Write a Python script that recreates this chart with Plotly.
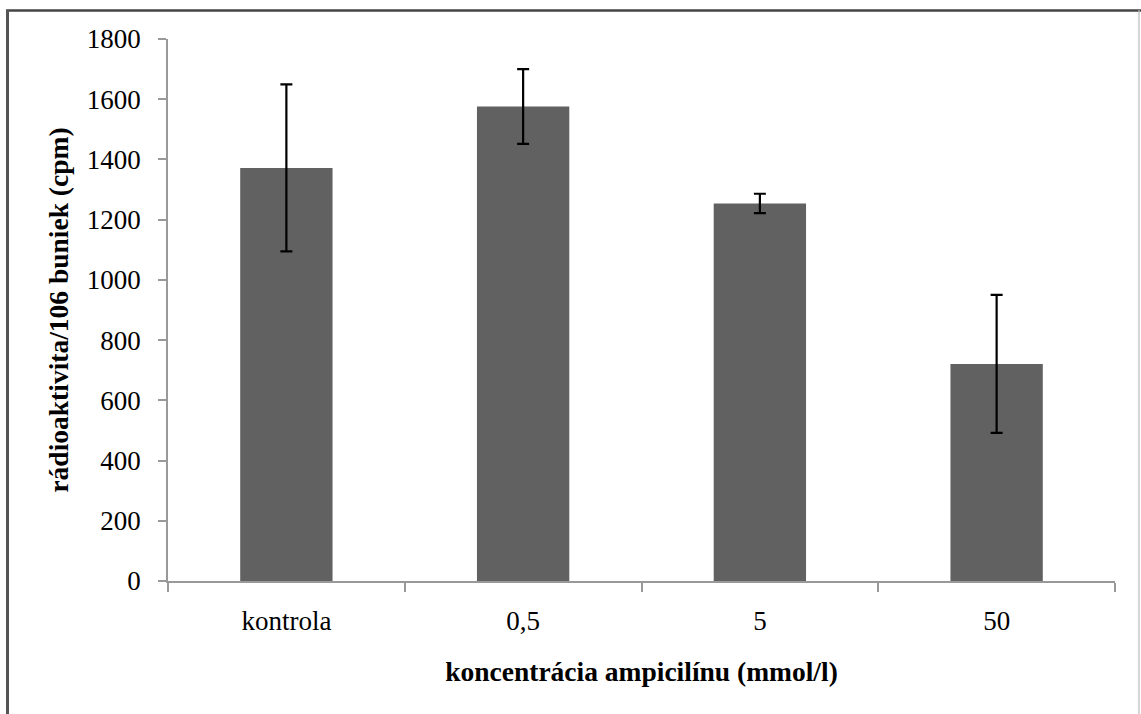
import plotly.graph_objects as go

categories = ["kontrola", "0,5", "5", "50"]
values = [1372, 1576, 1254, 721]
errors = [277, 124, 32, 229]
y_ticks = [0, 200, 400, 600, 800, 1000, 1200, 1400, 1600, 1800]

W, H = 1141, 714
L, R, T, B = 168, 26, 39, 133
pw, ph = W - L - R, H - T - B

def px_x(x):
    return (x - L) / pw

def px_y(y):
    return (H - B - y) / ph

font = "Liberation Serif, Times New Roman, serif"

fig = go.Figure(go.Bar(
    x=categories, y=values,
    marker=dict(color="#616161", line=dict(width=0)),
    width=0.39,
    error_y=dict(type="data", array=errors, visible=True,
                 color="black", thickness=2.2, width=6),
))

fig.update_layout(
    width=W, height=H,
    margin=dict(l=L, r=R, t=T, b=B),
    paper_bgcolor="white", plot_bgcolor="white",
    font=dict(family=font, size=27, color="black"),
    showlegend=False,
    xaxis=dict(
        type="category", tickson="boundaries", ticks="outside", ticklen=9,
        tickcolor="#999999", tickwidth=1.5,
        showline=True, linecolor="#999999", linewidth=1.5,
        showgrid=False, tickfont=dict(size=27), ticklabelstandoff=15,
        title=dict(text="<b>koncentrácia ampicilínu (mmol/l)</b>",
                   font=dict(size=27.5), standoff=27),
    ),
    yaxis=dict(
        range=[0, 1800], tickvals=y_ticks, ticks="outside", ticklen=8,
        tickcolor="#999999", tickwidth=1.5,
        showline=True, linecolor="#999999", linewidth=1.5,
        showgrid=False, zeroline=False, tickfont=dict(size=27),
        ticklabelstandoff=12,
        title=dict(text="<b>rádioaktivita/106 buniek (cpm)</b>",
                   font=dict(size=27.5), standoff=10),
    ),
    shapes=[
        dict(type="line", xref="paper", yref="paper",
             x0=px_x(6), x1=px_x(1141), y0=px_y(10.5), y1=px_y(10.5),
             line=dict(color="#444444", width=2.5), layer="below"),
        dict(type="line", xref="paper", yref="paper",
             x0=px_x(7.5), x1=px_x(7.5), y0=px_y(10), y1=px_y(716),
             line=dict(color="#555555", width=3), layer="below"),
        dict(type="line", xref="paper", yref="paper",
             x0=px_x(1139), x1=px_x(1139), y0=px_y(10), y1=px_y(716),
             line=dict(color="#bbbbbb", width=1.2), layer="below"),
    ],
)

fig.write_html("out.html")
